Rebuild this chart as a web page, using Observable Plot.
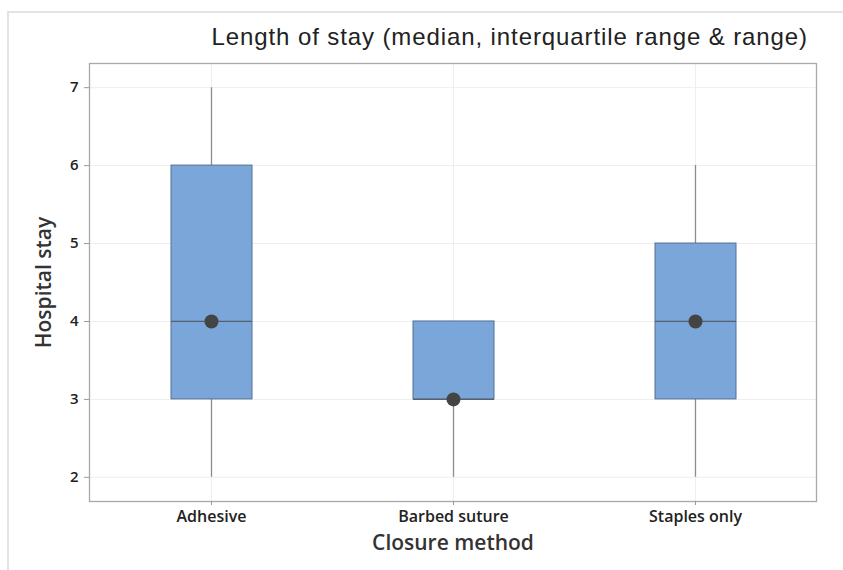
<!DOCTYPE html>
<html>
<head>
<meta charset="utf-8">
<script src="https://cdn.jsdelivr.net/npm/d3@7"></script>
<script src="https://cdn.jsdelivr.net/npm/@observablehq/plot@0.6"></script>
<style>
  html, body { margin: 0; padding: 0; background: #fff; }
  #wrap { position: relative; width: 843px; height: 570px; overflow: hidden; }
  #border { position: absolute; left: 7px; top: 11px; right: -5px; bottom: -5px; border-left: 2px solid #e3e3e3; border-top: 2px solid #e3e3e3; }
  #title { position: absolute; right: 35px; top: 23px; font-family: "Liberation Sans", Arial, sans-serif; font-size: 24px; letter-spacing: 0.9px; color: #222; white-space: nowrap; }
  #chart { position: absolute; left: 0; top: 0; }
</style>
</head>
<body>
<div id="wrap">
  <div id="border"></div>
  <div id="chart"></div>
  <div id="title">Length of stay (median, interquartile range &amp; range)</div>
</div>
<script>
const categories = ["Adhesive", "Barbed suture", "Staples only"];
const minValues = [2, 2, 2];
const q1Values = [3, 3, 3];
const medianValues = [4, 3, 4];
const q3Values = [6, 4, 5];
const maxValues = [7, 3, 6];
const yTicks = [2, 3, 4, 5, 6, 7];

const data = categories.map((c, i) => ({
  cat: c, min: minValues[i], q1: q1Values[i], med: medianValues[i], q3: q3Values[i], max: maxValues[i]
}));

const font = "'Open Sans', 'Noto Sans', sans-serif";

const chart = Plot.plot({
  width: 843,
  height: 570,
  marginLeft: 89,
  marginTop: 63,
  marginRight: 27,
  marginBottom: 69,
  style: { fontFamily: font, background: "transparent" },
  x: { type: "band", domain: categories, padding: 0 },
  y: { domain: [1.69, 7.31], ticks: yTicks },
  marks: [
    Plot.gridY(yTicks, { stroke: "#eeeeee", strokeOpacity: 1 }),
    Plot.gridX(categories, { stroke: "#eeeeee", strokeOpacity: 1 }),
    Plot.frame({ stroke: "#a8a8a8", strokeWidth: 1.3 }),
    Plot.axisY(yTicks, { label: null, tickFormat: "d", tickSize: 5, tickPadding: 6, fontSize: 15, fontWeight: 600, stroke: "#999", fill: "#222" }),
    Plot.axisX(categories, { label: null, tickSize: 4, tickPadding: 5, fontSize: 16, fontWeight: 600, stroke: "#999", fill: "#222" }),
    Plot.ruleX(data, { x: "cat", y1: "min", y2: "max", stroke: "#8c8c8c", strokeWidth: 1.3 }),
    Plot.barY(data, { x: "cat", y1: "q1", y2: "q3", fill: "#7ba6da", stroke: "#546f94", strokeWidth: 1, insetLeft: 81, insetRight: 80 }),
    Plot.tickY(data, { x: "cat", y: "med", stroke: "#55606e", strokeWidth: 1.3, insetLeft: 81, insetRight: 80 }),
    Plot.dot(data, { x: "cat", y: "med", r: 7, fill: "#444444", stroke: "none" }),
    Plot.text(["Hospital stay"], { frameAnchor: "left", dx: -45, rotate: -90, textAnchor: "middle", fontSize: 21, fontWeight: 600, fill: "#333", lineAnchor: "middle" }),
    Plot.text(["Closure method"], { frameAnchor: "bottom", dy: 42, textAnchor: "middle", fontSize: 21, fontWeight: 600, fill: "#333", lineAnchor: "middle" })
  ]
});
document.getElementById("chart").appendChild(chart);
</script>
</body>
</html>
